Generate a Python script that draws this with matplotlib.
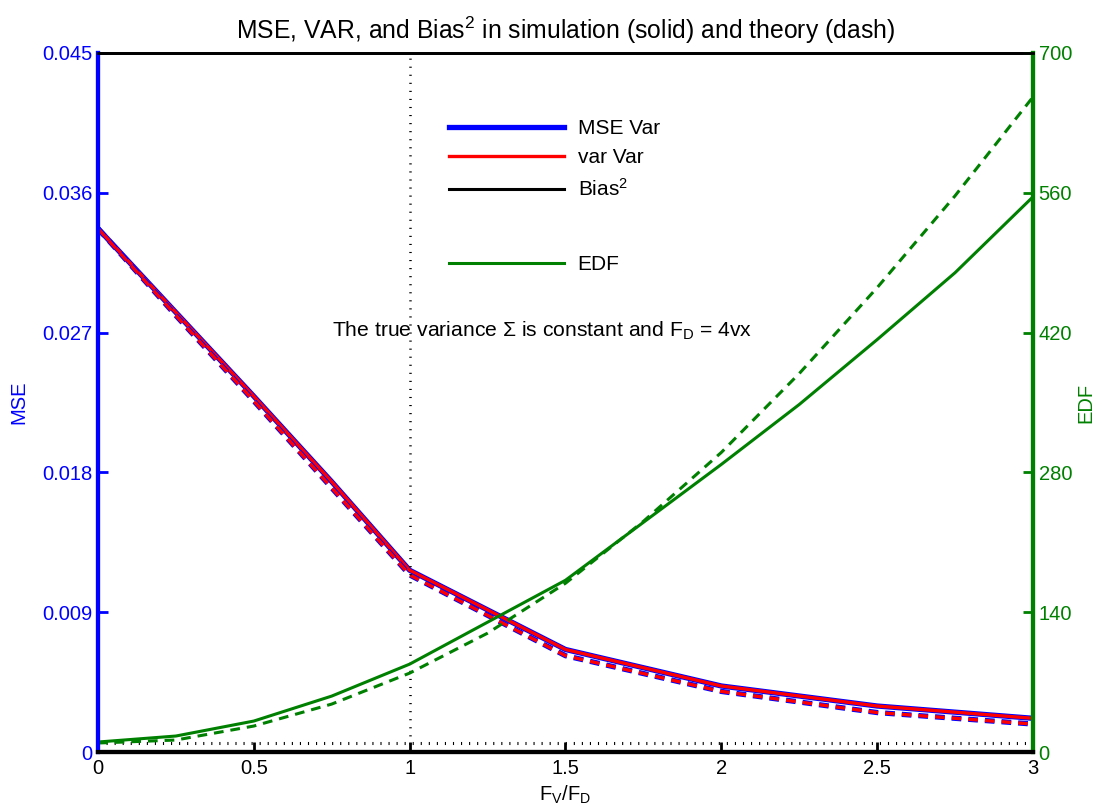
import matplotlib
matplotlib.use("Agg")
import matplotlib.pyplot as plt
from matplotlib.lines import Line2D

plt.rcParams['font.family'] = ['Liberation Sans', 'DejaVu Sans']
plt.rcParams['mathtext.fontset'] = 'custom'
plt.rcParams['mathtext.rm'] = 'Liberation Sans'
plt.rcParams['mathtext.it'] = 'Liberation Sans:italic'
plt.rcParams['lines.scale_dashes'] = False

# Ratio F_V / F_D
mse_x = [0, 0.25, 0.5, 0.75, 1.0, 1.5, 2.0, 2.5, 3.0]
edf_x = [0, 0.25, 0.5, 0.75, 1.0, 1.25, 1.5, 1.75, 2.0, 2.25, 2.5, 2.75, 3.0]

# Simulation (solid) and theory (dash)
mse_sim = [0.0337, 0.0283, 0.0229, 0.0174, 0.0117, 0.0066, 0.00425, 0.00296, 0.00217]
var_sim = [0.0337, 0.0283, 0.0229, 0.0174, 0.0117, 0.0066, 0.00425, 0.00296, 0.00217]
mse_theory = [0.0337, 0.0281, 0.0226, 0.0170, 0.0114, 0.0062, 0.0039, 0.00254, 0.0018]
var_theory = [0.0337, 0.0281, 0.0226, 0.0170, 0.0114, 0.0062, 0.0039, 0.00254, 0.0018]
bias_sq = [0.0006, 0.0006, 0.0006, 0.0006, 0.0006, 0.0006, 0.0006, 0.0006, 0.0006]

edf_sim = [10, 16, 31, 56, 88, 130, 172, 230, 288, 348, 413, 480, 556]
edf_theory = [9, 12, 26, 48, 79, 119, 169, 231, 300, 379, 465, 557, 656]

mse_ticks = [0, 0.009, 0.018, 0.027, 0.036, 0.045]
edf_ticks = [0, 140, 280, 420, 560, 700]
x_ticks = [0, 0.5, 1, 1.5, 2, 2.5, 3]

BLUE = (0, 0, 1)
RED = (1, 0, 0)
GREEN = (0, 0.5, 0)
FS = 14.5

fig = plt.figure(figsize=(11.02, 8.10), dpi=100)
ax = fig.add_axes([0.0889, 0.0716, 0.9374 - 0.0889, 0.9346 - 0.0716])
ax2 = ax.twinx()

dash = (0, (7, 5))
ax.plot(mse_x, mse_sim, color=BLUE, lw=3.8, solid_joinstyle='round')
ax.plot(mse_x, var_sim, color=RED, lw=2.4, solid_joinstyle='round')
ax.plot(mse_x, mse_theory, color=BLUE, lw=3.8, ls=dash)
ax.plot(mse_x, var_theory, color=RED, lw=2.4, ls=dash)
ax.plot(mse_x, bias_sq, color='black', lw=2.2, ls=(0, (0.8, 5)))
ax.axvline(1.0, color='black', lw=1.8, ls=(0, (0.8, 5)))

ax2.plot(edf_x, edf_sim, color=GREEN, lw=2.2)
ax2.plot(edf_x, edf_theory, color=GREEN, lw=2.2, ls=dash)

ax.set_xlim(0, 3)
ax.set_ylim(0, 0.045)
ax2.set_ylim(0, 700)
ax.set_xticks(x_ticks)
ax.set_xticklabels(['0', '0.5', '1', '1.5', '2', '2.5', '3'])
ax.set_yticks(mse_ticks)
ax.set_yticklabels(['0', '0.009', '0.018', '0.027', '0.036', '0.045'])
ax2.set_yticks(edf_ticks)
ax2.set_yticklabels([str(t) for t in edf_ticks])

ax.tick_params(axis='x', direction='in', length=7, width=2, colors='black',
               labelsize=FS, pad=5)
ax.tick_params(axis='y', direction='in', length=7, width=2, colors=BLUE,
               labelsize=FS, pad=4)
ax2.tick_params(axis='y', direction='in', length=7, width=2, colors=GREEN,
                labelsize=FS, pad=4)

for a in (ax, ax2):
    a.spines['top'].set_color('black')
    a.spines['top'].set_linewidth(2)
    a.spines['bottom'].set_color('black')
    a.spines['bottom'].set_linewidth(3)
    a.spines['left'].set_color(BLUE)
    a.spines['left'].set_linewidth(3)
    a.spines['right'].set_color(GREEN)
    a.spines['right'].set_linewidth(3)

ax.set_ylabel('MSE', color=BLUE, fontsize=FS, labelpad=10)
ax2.set_ylabel('EDF', color=GREEN, fontsize=FS, labelpad=3)
ax.set_xlabel('F$_\\mathrm{V}$/F$_\\mathrm{D}$', fontsize=FS, labelpad=4)
ax.set_title('MSE, VAR, and Bias$^2$ in simulation (solid) and theory (dash)',
             fontsize=17.8, pad=10)

ax.text(1.424, 0.0271, 'The true variance \u03a3 is constant and F$_\\mathrm{D}$ = 4vx',
        fontsize=15.2, ha='center', va='center')

handles1 = [Line2D([], [], color=BLUE, lw=3.8),
            Line2D([], [], color=RED, lw=2.4),
            Line2D([], [], color='black', lw=2.2)]
leg1 = ax2.legend(handles1, ['MSE Var', 'var Var', 'Bias$^2$'],
                  loc='upper left', bbox_to_anchor=(0.4075, 0.853),
                  bbox_transform=fig.transFigure, frameon=False, fontsize=15,
                  handlelength=5.5, handletextpad=0.67, borderpad=0,
                  borderaxespad=0, labelspacing=0.5)
ax2.add_artist(leg1)
handles2 = [Line2D([], [], color=GREEN, lw=2.2)]
ax2.legend(handles2, ['EDF'], loc='upper left', bbox_to_anchor=(0.4075, 0.685),
           bbox_transform=fig.transFigure, frameon=False, fontsize=15,
           handlelength=5.5, handletextpad=0.67, borderpad=0, borderaxespad=0)

fig.savefig('out.png', dpi=100)
